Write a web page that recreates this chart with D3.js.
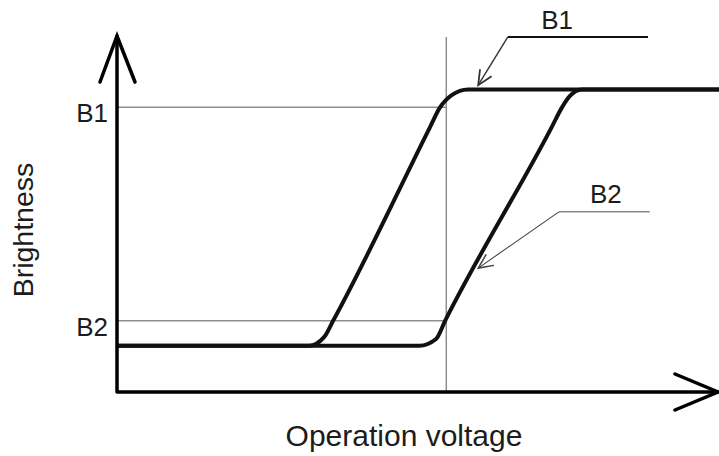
<!DOCTYPE html>
<html>
<head>
<meta charset="utf-8">
<script src="https://cdn.jsdelivr.net/npm/d3@7"></script>
<style type="text/css">
body { margin: 0; background: #fff; }
text { font-family: "Liberation Sans", Arial, sans-serif; fill: #1c1c1c; }

/* curves */
.curve { fill: none; stroke: #111; stroke-width: 4; stroke-linejoin: round; }
.axis-line { fill: none; stroke: #000; stroke-width: 3.5; stroke-linecap: round; }
.guide { stroke: #8f8f8f; stroke-width: 1.5; }
</style>
</head>
<body>
<script>
// 1. data (voltage / brightness in 0..100 units)
var voltage1 = [0, 31.9, 34.4, 35.9, 52.0, 53.6, 55.6, 58.3, 100];
var bright1  = [13, 13, 15.4, 20, 74.4, 79.8, 83.4, 85, 85];
var voltage2 = [0, 50.2, 53.0, 54.5, 72.3, 73.8, 75.2, 77.2, 100];
var bright2  = [13, 13, 14.9, 20, 74.7, 79.6, 83.1, 85, 85];

var tickNames  = ["B1", "B2"];
var tickValues = [80, 20];
var markVoltage = 54.7; // the vertical guide

// annotations: label, arrow tip, elbow, end of leader
var noteNames = ["B1", "B2"];
var noteLabel = [[73.1, 102], [81.2, 53.1]];
var noteTip   = [[60.0, 86.2], [60.0, 34.8]];
var noteElbow = [[64.9, 99.7], [73.4, 50.6]];
var noteEnd   = [[88.2, 99.7], [88.5, 50.6]];

var xTitle = "Operation voltage";
var yTitle = "Brightness";

// 2. sizes
var W = 719, H = 456;

var x = d3.scaleLinear().domain([0, 100]).range([117, 719]);
var y = d3.scaleLinear().domain([0, 100]).range([392, 36]);

var svg = d3.select("body").append("svg")
    .attr("width", W)
    .attr("height", H);

svg.append("rect").attr("width", W).attr("height", H).attr("fill", "#fff");

// 3. guide lines (gray)
svg.append("line")
    .attr("class", "guide")
    .attr("x1", x(markVoltage)).attr("x2", x(markVoltage))
    .attr("y1", y(0)).attr("y2", y(99.7));

svg.selectAll(".hguide")
    .data(tickValues)
  .enter().append("line")
    .attr("class", "guide hguide")
    .attr("x1", x(0)).attr("x2", x(markVoltage))
    .attr("y1", function(d) { return y(d); })
    .attr("y2", function(d) { return y(d); });

// tick labels
svg.selectAll(".tick-label")
    .data(tickValues)
  .enter().append("text")
    .attr("class", "tick-label")
    .attr("x", x(0) - 9)
    .attr("y", function(d) { return y(d) + 15; })
    .attr("text-anchor", "end")
    .style("font-size", "26px")
    .text(function(d, i) { return tickNames[i]; });

// 4. the two curves
var line = d3.line()
    .x(function(d) { return x(d[0]); })
    .y(function(d) { return y(d[1]); })
    .curve(d3.curveMonotoneX);

var curves = [
  voltage1.map(function(v, i) { return [v, bright1[i]]; }),
  voltage2.map(function(v, i) { return [v, bright2[i]]; })
];

svg.selectAll(".curve")
    .data(curves)
  .enter().append("path")
    .attr("class", "curve")
    .attr("d", line);

// 5. axes with open arrow heads
svg.append("path")
    .attr("class", "axis-line")
    .attr("d", "M" + x(0) + "," + y(0) + "L" + x(0) + "," + y(100) +
               "M" + x(100) + "," + y(0) + "L" + x(0) + "," + y(0));

svg.append("path")
    .attr("class", "axis-line")
    .attr("stroke-linejoin", "miter")
    .attr("d", "M" + (x(0) - 17) + "," + (y(100) + 46) + "L" + x(0) + "," + y(100) + "L" + (x(0) + 18) + "," + (y(100) + 46));

svg.append("path")
    .attr("class", "axis-line")
    .attr("d", "M" + (x(100) - 44) + "," + (y(0) - 18) + "L" + (x(100) - 1) + "," + y(0) + "L" + (x(100) - 44) + "," + (y(0) + 18));

// axis titles
svg.append("text")
    .attr("transform", "translate(33," + ((y(0) + y(100)) / 2 + 16) + ") rotate(-90)")
    .attr("text-anchor", "middle")
    .style("font-size", "28.5px")
    .text(yTitle);

svg.append("text")
    .attr("x", 404)
    .attr("y", 446)
    .attr("text-anchor", "middle")
    .style("font-size", "30px")
    .text(xTitle);

// 6. annotations
var noteStyle = [
  {flat: "#111", flatW: 2, lead: "#333", leadW: 1.4},
  {flat: "#8a8a8a", flatW: 1.5, lead: "#444", leadW: 1.1}
];

noteNames.forEach(function(name, i) {
  var tx = x(noteTip[i][0]), ty = y(noteTip[i][1]);
  var ex = x(noteElbow[i][0]), ey = y(noteElbow[i][1]);
  var st = noteStyle[i];

  svg.append("line")
      .attr("x1", ex).attr("y1", ey)
      .attr("x2", x(noteEnd[i][0])).attr("y2", y(noteEnd[i][1]))
      .attr("stroke", st.flat).attr("stroke-width", st.flatW);

  svg.append("line")
      .attr("x1", ex).attr("y1", ey)
      .attr("x2", tx).attr("y2", ty)
      .attr("stroke", st.lead).attr("stroke-width", st.leadW);

  // open arrow head
  var dx = ex - tx, dy = ey - ty;
  var len = Math.sqrt(dx * dx + dy * dy);
  dx /= len; dy /= len;
  var a = 25 * Math.PI / 180, L = 16;
  var b1 = [tx + L * (dx * Math.cos(a) - dy * Math.sin(a)), ty + L * (dx * Math.sin(a) + dy * Math.cos(a))];
  var b2 = [tx + L * (dx * Math.cos(-a) - dy * Math.sin(-a)), ty + L * (dx * Math.sin(-a) + dy * Math.cos(-a))];
  svg.append("path")
      .attr("d", "M" + b1 + "L" + tx + "," + ty + "L" + b2)
      .attr("fill", "none")
      .attr("stroke", st.lead).attr("stroke-width", st.leadW + 0.4);

  svg.append("text")
      .attr("x", x(noteLabel[i][0]))
      .attr("y", y(noteLabel[i][1]))
      .attr("text-anchor", "middle")
      .style("font-size", "26px")
      .text(name);
});
</script>
</body>
</html>
